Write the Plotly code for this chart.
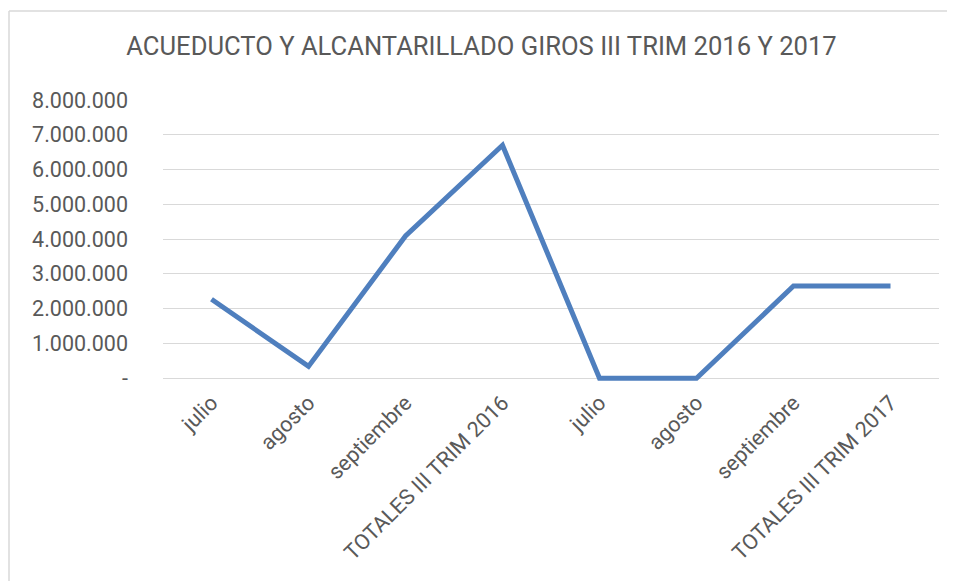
import plotly.graph_objects as go

categories = ["julio", "agosto", "septiembre", "TOTALES III TRIM 2016",
              "julio", "agosto", "septiembre", "TOTALES III TRIM 2017"]
values = [2270000, 340000, 4090000, 6700000, 0, 0, 2650000, 2650000]
y_ticks = [0, 1000000, 2000000, 3000000, 4000000, 5000000, 6000000, 7000000, 8000000]
y_ticklabels = ["-", "1.000.000", "2.000.000", "3.000.000", "4.000.000",
                "5.000.000", "6.000.000", "7.000.000", "8.000.000"]
title = "ACUEDUCTO Y ALCANTARILLADO GIROS III TRIM 2016 Y 2017"

# page body has an 8px margin, so the figure is drawn 8px in from the window edge
W, H = 947, 573
y_pad = 80000            # small room below zero so the line at 0 is not clipped
px_per_unit = 278 / 8000000
L, R, T = 155, 16, 92
B = 203 - y_pad * px_per_unit
pw, ph = W - L - R, H - T - B

x_idx = list(range(len(categories)))

fig = go.Figure()
fig.add_trace(go.Scatter(
    x=x_idx, y=values, mode="lines",
    line=dict(color="#4F7FBE", width=5, shape="linear"),
    showlegend=False, hoverinfo="skip",
))

font_family = "Roboto, Open Sans, sans-serif"
border_x = (1 - L) / pw
border_top = 1 + (T - 3) / ph
fig.update_layout(
    width=W, height=H,
    margin=dict(l=L, r=R, t=T, b=B, pad=0, autoexpand=False),
    paper_bgcolor="white", plot_bgcolor="white",
    title=dict(text=title, x=0.5, xref="container", xanchor="center",
               y=1 - 38 / H, yref="container", yanchor="middle",
               font=dict(family=font_family, size=25.6, color="#595959")),
    xaxis=dict(
        tickmode="array", tickvals=x_idx, ticktext=categories,
        range=[-0.5, len(categories) - 0.5], automargin=False,
        tickangle=-45, showgrid=False, zeroline=False, showline=False,
        ticks="", ticklabelstandoff=4,
        tickfont=dict(family=font_family, size=21.5, color="#595959"),
    ),
    yaxis=dict(
        tickmode="array", tickvals=y_ticks, ticktext=y_ticklabels,
        range=[-y_pad, 8000000], showgrid=True, gridcolor="#D9D9D9", gridwidth=1.3,
        zeroline=False, showline=False, ticks="", ticklabelstandoff=34,
        automargin=False,
        tickfont=dict(family=font_family, size=21.5, color="#595959"),
    ),
    shapes=[
        dict(type="line", xref="paper", yref="paper",
             x0=border_x, x1=border_x, y0=border_top, y1=-B / ph - 0.1,
             line=dict(color="#D9D9D9", width=1.5)),
        dict(type="line", xref="paper", yref="paper",
             x0=border_x, x1=1 + R / pw + 0.1, y0=border_top, y1=border_top,
             line=dict(color="#D9D9D9", width=1.5)),
    ],
)

fig.write_html("out.html")
